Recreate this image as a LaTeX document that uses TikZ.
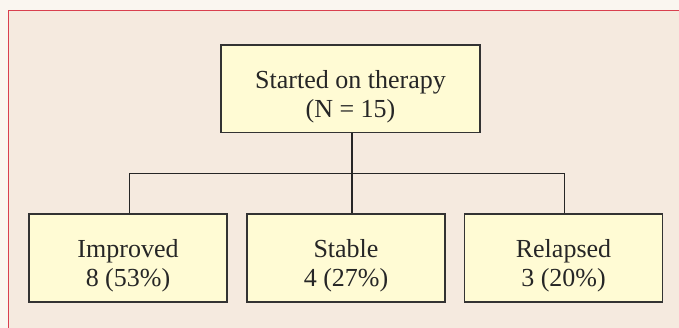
\documentclass[tikz,border=0pt]{standalone}
\usepackage{fontspec}
\setmainfont{Liberation Serif}
\definecolor{outerbg}{HTML}{FAF6F0}
\definecolor{panelbg}{HTML}{F5EADF}
\definecolor{panelred}{HTML}{D9404F}
\definecolor{boxfill}{HTML}{FFFBD4}
\definecolor{boxline}{HTML}{333333}
\tikzset{
  flowbox/.style={draw=boxline, line width=1.1pt, fill=boxfill, inner sep=0pt},
  boxtext/.style={align=center, font=\fontsize{26}{28.5}\selectfont, text=black!85, inner sep=0pt, yshift=-8pt},
  conn/.style={draw=black!85, line width=1pt}
}
\begin{document}
\begin{tikzpicture}[x=1pt,y=1pt]
\useasboundingbox (0,0) rectangle (679,328);
\fill[outerbg] (0,0) rectangle (679,328);
\begin{scope}
\clip (0,0) rectangle (679,328);
\draw[panelred, fill=panelbg, line width=1pt] (8.5,317) rectangle (700,-20);
\end{scope}
\node[flowbox, minimum width=259pt, minimum height=87.5pt,
  label={[boxtext]center:Started on therapy\\(N = 15)}] (top) at (350.5,239.25) {};
\node[flowbox, minimum width=198pt, minimum height=88pt,
  label={[boxtext]center:Improved\\8 (53\%)}] (imp) at (128,70) {};
\node[flowbox, minimum width=198pt, minimum height=88pt,
  label={[boxtext]center:Stable\\4 (27\%)}] (sta) at (346,70) {};
\node[flowbox, minimum width=198pt, minimum height=88pt,
  label={[boxtext]center:Relapsed\\3 (20\%)}] (rel) at (563.5,70) {};
\coordinate (hl) at (129,154);
\coordinate (hr) at (564.7,154);
\draw[conn, line width=1.4pt] (top.south -| 352,0) -- (sta.north -| 352,0);
\draw[conn] (imp.north -| hl) -- (hl) -- (hr) -- (rel.north -| hr);
\end{tikzpicture}
\end{document}
